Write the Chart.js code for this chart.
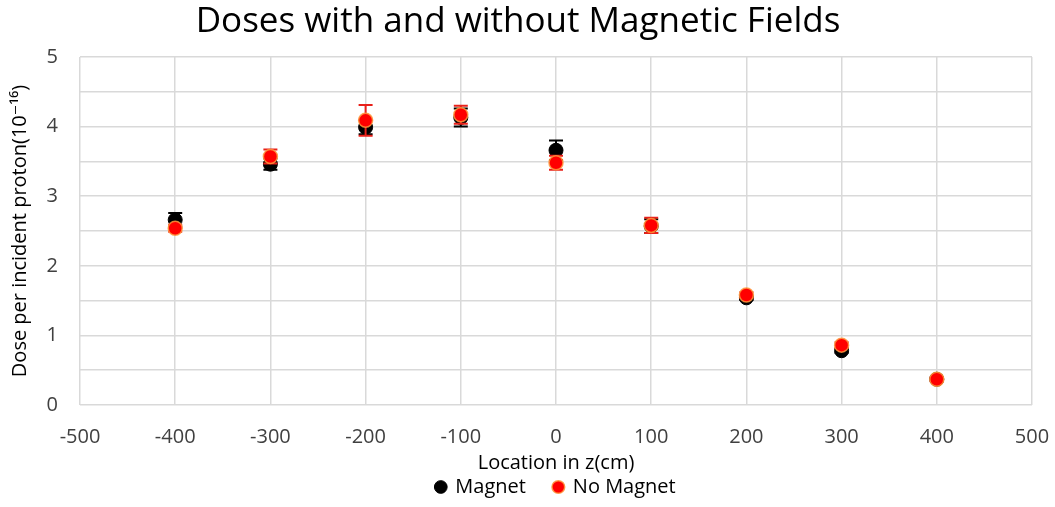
<!DOCTYPE html>
<html>
<head>
<meta charset="utf-8">
<script src="https://cdn.jsdelivr.net/npm/chart.js@4"></script>
<style>
  html, body { margin: 0; padding: 0; background: #fff; }
  #wrap { width: 1055px; height: 507px; }
</style>
</head>
<body>
<div id="wrap"><canvas id="doseChart"></canvas></div>
<script>
const locations = [-400, -300, -200, -100, 0, 100, 200, 300, 400];
const magnetDose = [2.66, 3.46, 3.99, 4.13, 3.66, 2.57, 1.54, 0.78, 0.37];
const magnetErr = [0.10, 0.08, 0.10, 0.13, 0.14, 0.10, 0.03, 0.03, 0.02];
const noMagnetDose = [2.54, 3.57, 4.09, 4.17, 3.48, 2.58, 1.58, 0.86, 0.37];
const noMagnetErr = [0.05, 0.10, 0.22, 0.13, 0.10, 0.11, 0.04, 0.04, 0.03];
const xTicks = [-500, -400, -300, -200, -100, 0, 100, 200, 300, 400, 500];

const FONT = "'Open Sans', 'DejaVu Sans', sans-serif";

function toPoints(xs, ys) {
  return xs.map((x, i) => ({ x: x, y: ys[i] }));
}

// draws each dataset's error bars right before its markers
const errorBars = {
  id: "errorBars",
  beforeDatasetDraw(chart, args) {
    const ds = chart.data.datasets[args.index];
    if (!ds.errors) return;
    const ctx = chart.ctx;
    const yScale = chart.scales.y;
    ctx.save();
    ctx.strokeStyle = ds.errorColor;
    ctx.lineWidth = 2;
    args.meta.data.forEach((pt, i) => {
      const v = ds.data[i].y;
      const e = ds.errors[i];
      const top = yScale.getPixelForValue(v + e);
      const bot = yScale.getPixelForValue(v - e);
      ctx.beginPath();
      ctx.moveTo(pt.x, top);
      ctx.lineTo(pt.x, bot);
      ctx.moveTo(pt.x - 7, top);
      ctx.lineTo(pt.x + 7, top);
      ctx.moveTo(pt.x - 7, bot);
      ctx.lineTo(pt.x + 7, bot);
      ctx.stroke();
    });
    ctx.restore();
  }
};

new Chart(document.getElementById("doseChart"), {
  type: "scatter",
  data: {
    datasets: [
      {
        label: "Magnet",
        data: toPoints(locations, magnetDose),
        errors: magnetErr,
        errorColor: "#000000",
        backgroundColor: "#000000",
        borderColor: "#000000",
        borderWidth: 1,
        pointRadius: 7,
        order: 1
      },
      {
        label: "No Magnet",
        data: toPoints(locations, noMagnetDose),
        errors: noMagnetErr,
        errorColor: "#e8201a",
        backgroundColor: "#ff0000",
        borderColor: "rgba(255,150,60,0.85)",
        borderWidth: 1.5,
        pointRadius: 7,
        order: 0
      }
    ]
  },
  options: {
    responsive: true,
    maintainAspectRatio: false,
    animation: false,
    layout: { padding: { left: 4, right: 23, top: 0, bottom: 0 } },
    plugins: {
      title: {
        display: true,
        text: "Doses with and without Magnetic Fields",
        color: "#000000",
        font: { family: FONT, size: 35, weight: "normal" },
        padding: { top: 1, bottom: 14 }
      },
      legend: {
        position: "bottom",
        fullSize: false,
        labels: {
          usePointStyle: true,
          pointStyle: "circle",
          boxWidth: 9,
          boxHeight: 9,
          padding: 2,
          color: "#000000",
          font: { family: FONT, size: 20 },
          sort: (a, b) => a.datasetIndex - b.datasetIndex,
          generateLabels: chart => {
            const items = Chart.defaults.plugins.legend.labels.generateLabels(chart);
            items.forEach(it => { if (it.datasetIndex === 0) it.text += "     "; });
            return items;
          }
        }
      },
      tooltip: { enabled: false }
    },
    scales: {
      x: {
        type: "linear",
        min: -500,
        max: 500,
        afterBuildTicks: s => { s.ticks = xTicks.map(v => ({ value: v })); },
        afterFit: s => { s.height = 70; s.paddingLeft = 0; s.paddingRight = 0; },
        ticks: { color: "#404040", font: { family: FONT, size: 20 }, padding: 20 },
        grid: { color: "#d9d9d9", lineWidth: 1.5, drawTicks: false },
        border: { display: false },
        title: {
          display: true,
          text: "Location in z(cm)",
          color: "#000000",
          font: { family: FONT, size: 20 },
          padding: { top: 0, bottom: 0 }
        }
      },
      y: {
        min: 0,
        max: 5,
        afterFit: s => { s.width = 76; },
        ticks: {
          stepSize: 0.5,
          color: "#404040",
          font: { family: FONT, size: 20 },
          padding: 22,
          callback: v => (Number.isInteger(v) ? v : "")
        },
        grid: { color: "#d9d9d9", lineWidth: 1.5, drawTicks: false },
        border: { display: false },
        title: {
          display: true,
          text: "Dose per incident proton(10\u207B\u00B9\u2076)",
          color: "#000000",
          font: { family: FONT, size: 20 },
          padding: { top: 4, bottom: 6 }
        }
      }
    }
  },
  plugins: [errorBars]
});
</script>
</body>
</html>
